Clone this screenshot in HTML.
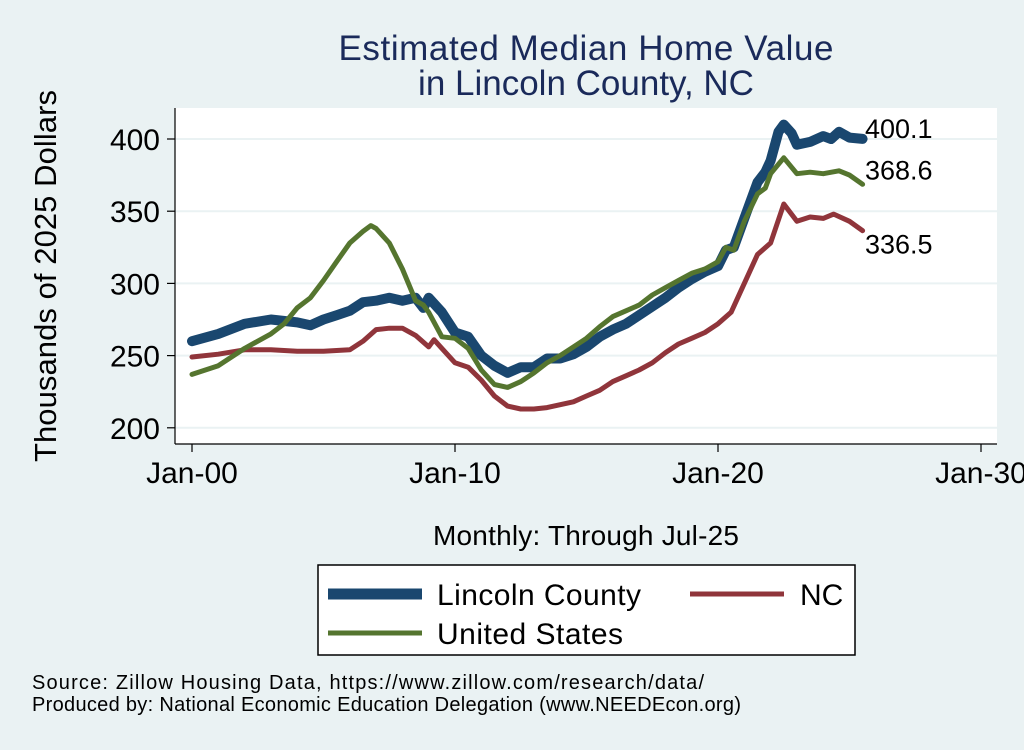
<!DOCTYPE html>
<html><head><meta charset="utf-8"><style>
body{margin:0;background:#eaf2f3;font-family:"Liberation Sans",Arial,sans-serif}
svg text{font-family:"Liberation Sans",Arial,sans-serif}
</style></head><body>
<svg id="chart" width="1024" height="745" viewBox="0 0 1024 745" xmlns="http://www.w3.org/2000/svg">
<rect width="1024" height="745" fill="#eaf2f3"/>
<text x="586" y="60" font-size="35" fill="#1a2a5a" text-anchor="middle" textLength="495">Estimated Median Home Value</text>
<text x="586" y="95" font-size="35" fill="#1a2a5a" text-anchor="middle">in Lincoln County, NC</text>
<rect x="175" y="108" width="822" height="336" fill="#fff"/>
<g id="grid"></g>
<g id="axes"></g>
<g id="series"></g>
<text x="56" y="276" font-size="31" fill="#000" text-anchor="middle" textLength="372" transform="rotate(-90 56 276)">Thousands of 2025 Dollars</text>
<text x="586" y="545" font-size="28" fill="#000" text-anchor="middle" textLength="306">Monthly: Through Jul-25</text>
<g>
<rect x="318" y="565" width="537" height="90" fill="#fff" stroke="#000" stroke-width="1.5"/>
<line x1="328" y1="594" x2="422" y2="594" stroke="#1a476f" stroke-width="11"/>
<text x="437" y="605" font-size="30" textLength="204">Lincoln County</text>
<line x1="690" y1="594" x2="784" y2="594" stroke="#90353b" stroke-width="5"/>
<text x="800" y="605" font-size="30">NC</text>
<line x1="328" y1="633" x2="422" y2="633" stroke="#55752f" stroke-width="5"/>
<text x="437" y="644" font-size="30" textLength="186">United States</text>
</g>
<text x="32" y="689" font-size="20" textLength="672">Source: Zillow Housing Data, https://www.zillow.com/research/data/</text>
<text x="32" y="711" font-size="20" textLength="709">Produced by: National Economic Education Delegation (www.NEEDEcon.org)</text>
</svg>
<script>
const yTicks=[200,250,300,350,400];
const xTickYears=[0,10,20,30];
const xTickLabels=["Jan-00","Jan-10","Jan-20","Jan-30"];
const lincolnT=[0,1,2,3,4,4.5,5,5.5,6,6.5,7,7.5,8,8.5,8.8,9,9.5,10,10.5,11,11.5,12,12.5,13,13.5,14,14.5,15,15.5,16,16.5,17,17.5,18,18.5,19,19.5,20,20.3,20.6,21,21.5,21.8,22,22.3,22.5,22.8,23,23.5,24,24.3,24.6,25,25.5];
const lincolnV=[260,265,272,275,273,271,275,278,281,287,288,290,288,290,283,290,280,266,263,250,243,238,242,242,248,248,251,256,263,268,272,278,284,290,297,303,308,312,323,325,345,370,377,385,405,410,404,396,398,402,400,405,401,400.1];
const ncT=[0,1,2,3,4,5,6,6.5,7,7.5,8,8.5,9,9.2,9.5,10,10.5,11,11.5,12,12.5,13,13.5,14,14.5,15,15.5,16,16.5,17,17.5,18,18.5,19,19.5,20,20.5,21,21.5,22,22.5,23,23.5,24,24.4,25,25.5];
const ncV=[249,251,254,254,253,253,254,260,268,269,269,264,256,261,255,245,242,233,222,215,213,213,214,216,218,222,226,232,236,240,245,252,258,262,266,272,280,300,320,328,355,343,346,345,348,343,336.5];
const usT=[0,1,2,3,3.5,4,4.5,5,5.5,6,6.5,6.8,7,7.5,8,8.5,8.8,9,9.5,10,10.5,11,11.5,12,12.5,13,13.5,14,14.5,15,15.5,16,16.5,17,17.5,18,18.5,19,19.5,20,20.3,20.6,21,21.5,21.8,22,22.5,23,23.5,24,24.6,25,25.5];
const usV=[237,243,255,265,272,283,290,302,315,328,336,340,338,328,310,288,285,280,263,262,255,240,230,228,232,238,245,250,256,262,270,277,281,285,292,297,302,307,310,315,325,323,343,362,366,376,387,376,377,376,378,375,368.6];
const endLabels=["400.1","368.6","336.5"];
const X=t=>192+t*26.3;
const Y=v=>139+(400-v)*1.444;
const NS="http://www.w3.org/2000/svg";
function mk(tag,attrs,parent,txt){const e=document.createElementNS(NS,tag);for(const k in attrs)e.setAttribute(k,attrs[k]);if(txt!==undefined)e.textContent=txt;parent.appendChild(e);return e;}
const grid=document.getElementById('grid'),axes=document.getElementById('axes'),ser=document.getElementById('series');
yTicks.forEach(v=>{
 const g=mk('line',{x1:175,x2:997,y1:Y(v),y2:Y(v),stroke:'#eaf2f3','stroke-width':2},grid);
 
 
 const t=mk('line',{x1:167,x2:175,y1:Y(v),y2:Y(v),stroke:'#000','stroke-width':1.2},axes);
 
 
 const l=mk('text',{x:160,y:Y(v)+11,'font-size':30,'text-anchor':'end'},axes,String(v));
 
 
});
mk('line',{x1:175,x2:175,y1:108,y2:444,stroke:'#000','stroke-width':1.2},axes);
mk('line',{x1:175,x2:997,y1:444,y2:444,stroke:'#000','stroke-width':1.2},axes);
xTickYears.forEach((t,i)=>{
 const k=mk('line',{x1:X(t),x2:X(t),y1:444,y2:452,stroke:'#000','stroke-width':1.2},axes);
 
 
 const l=mk('text',{x:X(t),y:483,'font-size':30,'text-anchor':'middle'},axes,xTickLabels[i]);
 
 
});
function line(T,V,color,w,name){
 const d=T.map((t,i)=>(i?'L':'M')+X(t).toFixed(1)+','+Y(V[i]).toFixed(1)).join('');
 const p=mk('path',{d:d,fill:'none',stroke:color,'stroke-width':w,'stroke-linejoin':'round','stroke-linecap':'round'},ser);
 
 
}
line(ncT,ncV,'#90353b',5,'line-nc');
line(lincolnT,lincolnV,'#1a476f',10,'line-lincoln-county');
line(usT,usV,'#55752f',5,'line-united-states');
const ends=[[lincolnT,lincolnV,-1],[usT,usV,-5],[ncT,ncV,23]];
ends.forEach((e,i)=>{
 const T=e[0],V=e[1];const v=V[V.length-1];
 const l=mk('text',{x:865,y:Y(v)+e[2],'font-size':27},ser,endLabels[i]);
 
 
});
</script>
</body></html>
